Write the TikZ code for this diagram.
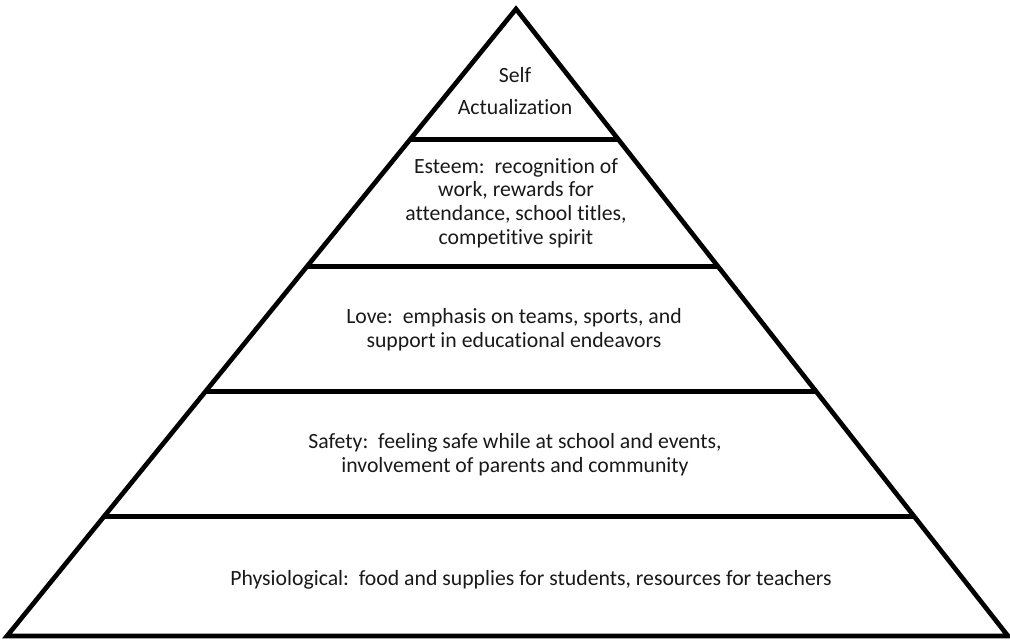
\documentclass[tikz,border=0pt]{standalone}
\usepackage{fontspec}
\setmainfont[Ligatures={NoCommon}]{Carlito}
\usetikzlibrary{calc}
\begin{document}
\begin{tikzpicture}[x=0.75pt,y=-0.75pt,
  edge/.style={line width=3.5pt,black},
  label/.style={align=center,font=\fontsize{16.3}{17.8}\selectfont,inner sep=0pt,text=black!90}]
\useasboundingbox (0,0) rectangle (1010,640);
\coordinate (apex) at (516,9);
\coordinate (bl) at (7,636);
\coordinate (br) at (1008,636);
\foreach \n/\t in {a/0.2086,b/0.4108,c/0.6099,d/0.8089}{
  \coordinate (L\n) at ($(apex)!\t!(bl)$);
  \coordinate (R\n) at ($(apex)!\t!(br)$);
}
\draw[edge] (bl) -- (apex) -- (br) -- cycle;
\draw[edge] (La) -- (Ra);
\draw[edge] (Lb) -- (Rb);
\draw[edge] (Lc) -- (Rc);
\draw[edge] (Ld) -- (Rd);
\node[label] (self) at (515,91) {Self\\[6.5pt]Actualization};
\node[label] (esteem) at (516,203) {Esteem:\ \ recognition of\\work, rewards for\\attendance, school titles,\\competitive spirit};
\node[label] (love) at (514,330) {Love:\ \ emphasis on teams, sports, and\\support in educational endeavors};
\node[label] (safety) at (515,455) {Safety:\ \ feeling safe while at school and events,\\involvement of parents and community};
\node[label] (phys) at (531,580) {Physiological:\ \ food and supplies for students, resources for teachers};
\end{tikzpicture}
\end{document}
